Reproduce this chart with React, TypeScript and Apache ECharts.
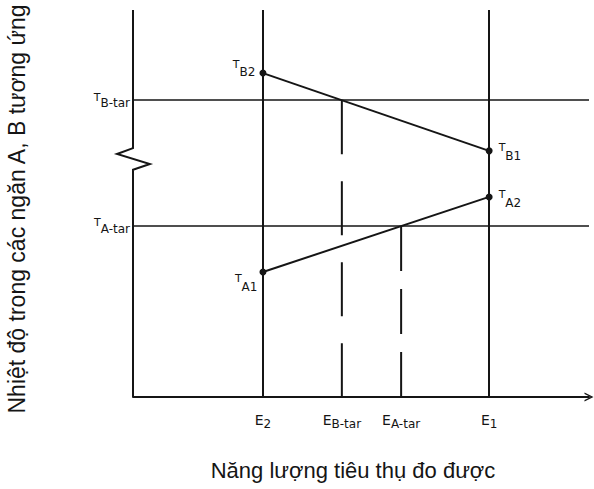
import React, { useEffect, useRef } from "react";
import * as echarts from "echarts";

// ---- data (abstract units: x 0..100 along energy axis, y 0..100 along temperature axis)
const energyValues = [28.5, 45.8, 58.8, 78.1]; // E2, E_B-tar, E_A-tar, E1
const energyMain = ["E", "E", "E", "E"];
const energySub = ["2", "B-tar", "A-tar", "1"];

const targetTempValues = [44.2, 76.7]; // T_A-tar, T_B-tar
const targetTempSub = ["A-tar", "B-tar"];

const chamberBValues = [83.7, 63.6]; // T_B2 at E2, T_B1 at E1
const chamberBSub = ["B2", "B1"];
const chamberAValues = [32.3, 51.7]; // T_A1 at E2, T_A2 at E1
const chamberASub = ["A1", "A2"];

// y-axis line with its break (zig-zag) mark, bottom to top
const yAxisBreakX = [0, 0, 3.7, -3.5, 0, 0];
const yAxisBreakY = [0, 58.7, 60.2, 62.8, 64.3, 100];

const xTitle = "Năng lượng tiêu thụ đo được";
const yTitle = "Nhiệt độ trong các ngăn A, B tương ứng";

const INK = "#151515";
const FONT_TITLE = "'Liberation Sans', Arial, sans-serif";
const FONT_LABEL = "'DejaVu Sans', 'Liberation Sans', sans-serif";

const pointRich = {
  m: { fontSize: 11, fontFamily: FONT_LABEL, color: INK, padding: [0, 0, 8, 0] },
  s: { fontSize: 12, fontFamily: FONT_LABEL, color: INK, padding: [8, 0, 0, 0] },
};
const yRich = {
  m: { fontSize: 11, fontFamily: FONT_LABEL, color: INK, padding: [0, 0, 6, 0] },
  s: { fontSize: 12, fontFamily: FONT_LABEL, color: INK, padding: [6, 0, 0, 0] },
};
const xRich = {
  m: { fontSize: 14, fontFamily: FONT_LABEL, color: INK, padding: [0, 0, 4, 0] },
  s: { fontSize: 12, fontFamily: FONT_LABEL, color: INK, padding: [4, 0, 0, 0] },
};

function pointItem(x: number, y: number, sub: string, side: "left" | "right", offset: number[], dist: number) {
  return {
    value: [x, y],
    label: {
      show: true,
      position: side,
      distance: dist,
      offset,
      formatter: `{m|T}{s|${sub}}`,
      rich: pointRich,
    },
  };
}

const titleGraphics = [
  {
    type: "text",
    id: "ytitle",
    x: 17,
    y: 209,
    rotation: Math.PI / 2,
    style: {
      text: yTitle,
      fontSize: 23,
      fontFamily: FONT_TITLE,
      fill: INK,
      align: "center",
      verticalAlign: "middle",
    },
  },
  {
    type: "text",
    id: "xtitle",
    x: 353,
    y: 470,
    style: {
      text: xTitle,
      fontSize: 22,
      fontFamily: FONT_TITLE,
      fill: INK,
      align: "center",
      verticalAlign: "middle",
    },
  },
];

export default function App() {
  const ref = useRef<HTMLDivElement>(null);

  useEffect(() => {
    if (!ref.current) return;
    const chart = echarts.init(ref.current, null, { renderer: "svg" });

    const option = {
      animation: false,
      backgroundColor: "#ffffff",
      grid: { left: 133, right: 5, top: 10, bottom: 92 },
      xAxis: {
        type: "value",
        min: 0,
        max: 100,
        axisLine: {
          show: true,
          lineStyle: { color: INK, width: 2 },
          symbol: ["none", "path://M0,10 L5,0 L10,10 L8.4,10 L5,3.2 L1.6,10 Z"],
          symbolSize: [11, 9],
        },
        axisTick: { show: false },
        splitLine: { show: false },
        axisLabel: {
          customValues: energyValues,
          margin: 16,
          formatter: (v: number) => {
            const i = energyValues.indexOf(v);
            return i < 0 ? "" : `{m|${energyMain[i]}}{s|${energySub[i]}}`;
          },
          rich: xRich,
        },
      },
      yAxis: {
        type: "value",
        min: 0,
        max: 100,
        axisLine: { show: false },
        axisTick: { show: false },
        splitLine: { show: false },
        axisLabel: {
          customValues: targetTempValues,
          margin: 3,
          formatter: (v: number) => {
            const i = targetTempValues.indexOf(v);
            return i < 0 ? "" : `{m|T}{s|${targetTempSub[i]}}`;
          },
          rich: yRich,
        },
      },
      graphic: titleGraphics,
      series: [
        {
          type: "line",
          name: "guides",
          data: [],
          silent: true,
          markLine: {
            silent: true,
            symbol: ["none", "none"],
            label: { show: false },
            data: [
              { xAxis: energyValues[0], lineStyle: { color: INK, width: 2, type: "solid" } },
              { xAxis: energyValues[3], lineStyle: { color: INK, width: 2, type: "solid" } },
              { yAxis: targetTempValues[0], lineStyle: { color: INK, width: 1.7, type: "solid" } },
              { yAxis: targetTempValues[1], lineStyle: { color: INK, width: 1.7, type: "solid" } },
            ],
          },
        },
        {
          type: "line",
          name: "E_B-tar",
          data: [
            [energyValues[1], targetTempValues[1]],
            [energyValues[1], 0],
          ],
          symbol: "none",
          silent: true,
          lineStyle: { color: INK, width: 2, type: [54, 27] },
        },
        {
          type: "line",
          name: "E_A-tar",
          data: [
            [energyValues[2], targetTempValues[0]],
            [energyValues[2], 0],
          ],
          symbol: "none",
          silent: true,
          lineStyle: { color: INK, width: 2, type: [45, 18] },
        },
        {
          type: "line",
          name: "T_B",
          data: [
            pointItem(energyValues[0], chamberBValues[0], chamberBSub[0], "left", [0, -5], 4),
            pointItem(energyValues[3], chamberBValues[1], chamberBSub[1], "right", [0, 1], 6),
          ],
          symbol: "circle",
          symbolSize: 7,
          silent: true,
          itemStyle: { color: INK },
          lineStyle: { color: INK, width: 2 },
          z: 6,
        },
        {
          type: "line",
          name: "T_A",
          data: [
            pointItem(energyValues[0], chamberAValues[0], chamberASub[0], "left", [0, 11], 2),
            pointItem(energyValues[3], chamberAValues[1], chamberASub[1], "right", [0, 2], 6),
          ],
          symbol: "circle",
          symbolSize: 7,
          silent: true,
          itemStyle: { color: INK },
          lineStyle: { color: INK, width: 2 },
          z: 6,
        },
      ],
    };

    chart.setOption(option as any);

    // y-axis line with break mark, positioned through the grid's own scales
    const pts = yAxisBreakX.map((x, i) =>
      chart.convertToPixel({ gridIndex: 0 }, [x, yAxisBreakY[i]]) as number[]
    );
    chart.setOption({
      graphic: [
        ...titleGraphics,
        {
          type: "polyline",
          id: "yaxis",
          z: 10,
          shape: { points: pts },
          style: { stroke: INK, lineWidth: 2, fill: "none" },
          silent: true,
        },
      ],
    } as any);

    return () => chart.dispose();
  }, []);

  return (
    <div
      ref={ref}
      style={{ position: "absolute", left: 0, top: 0, width: 594, height: 489, background: "#fff" }}
    />
  );
}
